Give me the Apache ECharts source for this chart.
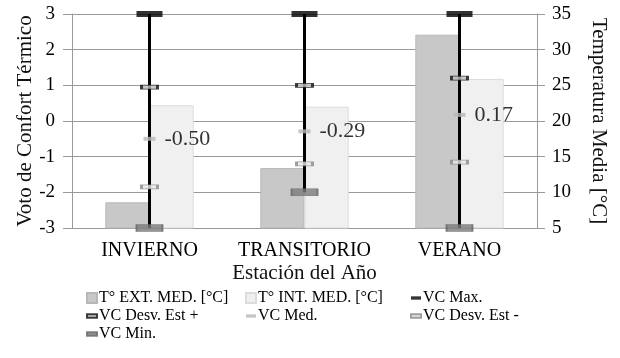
<!DOCTYPE html>
<html><head><meta charset="utf-8">
<script src="https://cdn.jsdelivr.net/npm/echarts@6/dist/echarts.min.js"></script>
<style>html,body{margin:0;padding:0;background:#fff}#c{width:620px;height:358px}</style>
</head><body><div id="c"></div>
<script>
var categories = ['INVIERNO', 'TRANSITORIO', 'VERANO'];
var tExt = [8.6, 13.4, 32.1];
var tInt = [22.2, 22.0, 25.9];
var vcMax = [3, 3, 3];
var vcDesvMas = [0.95, 1.0, 1.2];
var vcMed = [-0.50, -0.29, 0.17];
var vcDesvMenos = [-1.85, -1.2, -1.15];
var vcMin = [-3, -2, -3];
var leftTicks = [-3, 3, 1];
var rightTicks = [5, 35, 5];

var FONT = 'Liberation Serif';
var chart = echarts.init(document.getElementById('c'), null, {renderer: 'canvas'});
var rangeData = categories.map(function (c, i) { return [i, vcMin[i], vcMax[i]]; });
function lineIcon() { return 'path://M0,0h12v4h-12z'; }
var legendText = {fontFamily: FONT, fontSize: 16, color: '#000', padding: [0, 0, 0, -3]};

var option = {
  animation: false,
  textStyle: {fontFamily: FONT},
  grid: {left: 72, right: 83, top: 14, bottom: 130},
  legend: [
    {left: 86, top: 290, orient: 'vertical', itemGap: 2, itemWidth: 10, itemHeight: 16, padding: 0,
     textStyle: legendText,
     data: [{name: 'T° EXT. MED. [°C]', icon: 'path://M0,0h9v9h-9z'},
            {name: 'VC Desv. Est +', icon: lineIcon()},
            {name: 'VC Min.', icon: lineIcon()}]},
    {left: 245, top: 290, orient: 'vertical', itemGap: 2, itemWidth: 10, itemHeight: 16, padding: 0,
     textStyle: legendText,
     data: [{name: 'T° INT. MED. [°C]', icon: 'path://M0,0h9v9h-9z'},
            {name: 'VC Med.', icon: lineIcon()}]},
    {left: 410, top: 290, orient: 'vertical', itemGap: 2, itemWidth: 10, itemHeight: 16, padding: 0,
     textStyle: legendText,
     data: [{name: 'VC Max.', icon: lineIcon()},
            {name: 'VC Desv. Est -', icon: lineIcon()}]}
  ],
  xAxis: {
    type: 'category', data: categories,
    name: 'Estación del Año', nameLocation: 'middle', nameGap: 35, nameMoveOverlap: false,
    nameTextStyle: {fontFamily: FONT, fontSize: 21, color: '#111'},
    axisLine: {lineStyle: {color: '#999'}},
    axisTick: {show: false},
    axisLabel: {fontFamily: FONT, fontSize: 20, color: '#000', margin: 13, interval: 0, hideOverlap: false}
  },
  yAxis: [
    {type: 'value', min: leftTicks[0], max: leftTicks[1], interval: leftTicks[2],
     name: 'Voto de Confort Térmico', nameLocation: 'middle', nameGap: 36, nameRotate: 90, nameMoveOverlap: false,
     nameTextStyle: {fontFamily: FONT, fontSize: 21, color: '#111'},
     axisLine: {show: true, lineStyle: {color: '#999'}},
     axisTick: {show: true, length: 9, lineStyle: {color: '#999'}},
     axisLabel: {fontFamily: FONT, fontSize: 19, color: '#000', margin: 17},
     splitLine: {lineStyle: {color: '#999'}}},
    {type: 'value', min: rightTicks[0], max: rightTicks[1], interval: rightTicks[2],
     name: 'Temperatura Media [°C]', nameLocation: 'middle', nameGap: 51, nameRotate: -90, nameMoveOverlap: false,
     nameTextStyle: {fontFamily: FONT, fontSize: 21, color: '#111'},
     axisLine: {show: true, lineStyle: {color: '#999'}},
     axisTick: {show: true, length: 8, lineStyle: {color: '#999'}},
     axisLabel: {fontFamily: FONT, fontSize: 19, color: '#000', margin: 15},
     splitLine: {show: false}}
  ],
  series: [
    {name: 'T° EXT. MED. [°C]', type: 'bar', yAxisIndex: 1, data: tExt, barGap: '0%', barCategoryGap: '43%',
     itemStyle: {color: '#c8c8c8', borderColor: '#b8b8b8', borderWidth: 1}},
    {name: 'T° INT. MED. [°C]', type: 'bar', yAxisIndex: 1, data: tInt,
     itemStyle: {color: '#f0f0f0', borderColor: '#dcdcdc', borderWidth: 1}},
    {name: 'range', type: 'custom', yAxisIndex: 0, data: rangeData, z: 3, silent: true,
     renderItem: function (params, api) {
       var p1 = api.coord([api.value(0), api.value(1)]);
       var p2 = api.coord([api.value(0), api.value(2)]);
       return {type: 'line', shape: {x1: p1[0], y1: p1[1], x2: p2[0], y2: p2[1]},
               style: {stroke: '#000', lineWidth: 3}};
     }},
    {name: 'VC Max.', type: 'scatter', yAxisIndex: 0, data: vcMax, z: 5,
     symbol: 'rect', symbolSize: [26, 6], itemStyle: {color: '#000'}},
    {name: 'VC Desv. Est +', type: 'scatter', yAxisIndex: 0, data: vcDesvMas, z: 5,
     symbol: 'rect', symbolSize: [16, 4], itemStyle: {color: '#bdbdbd', borderColor: '#111', borderWidth: 1.5}},
    {name: 'VC Med.', type: 'scatter', yAxisIndex: 0, data: vcMed, z: 5,
     symbol: 'rect', symbolSize: [12, 4], itemStyle: {color: '#b8b8b8'},
     label: {show: true, position: 'right', distance: 9, fontFamily: FONT, fontSize: 22, color: '#000',
             formatter: function (p) { return p.value.toFixed(2); }}},
    {name: 'VC Desv. Est -', type: 'scatter', yAxisIndex: 0, data: vcDesvMenos, z: 5,
     symbol: 'rect', symbolSize: [16, 4], itemStyle: {color: '#e8e8e8', borderColor: '#888', borderWidth: 1.5}},
    {name: 'VC Min.', type: 'scatter', yAxisIndex: 0, data: vcMin, z: 5,
     symbol: 'rect', symbolSize: [26, 7], itemStyle: {color: '#7a7a7a', borderColor: '#666', borderWidth: 1}}
  ]
};
chart.setOption(option);
</script></body></html>
